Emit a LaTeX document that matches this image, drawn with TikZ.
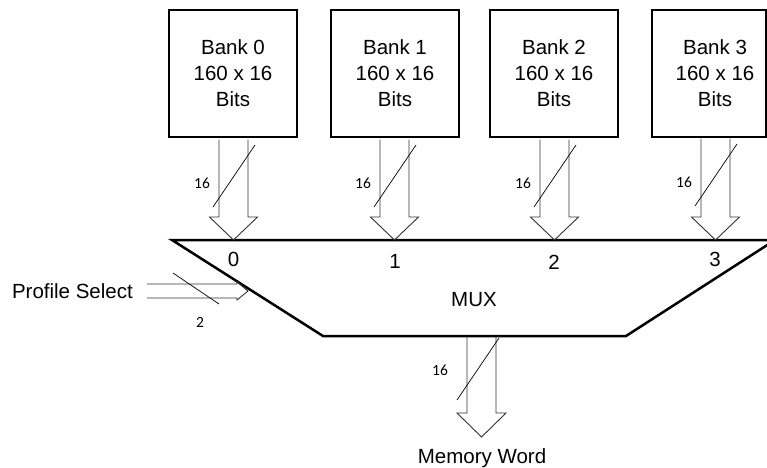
\documentclass[tikz,border=0pt]{standalone}
\usepackage{fontspec}
\setmainfont{Liberation Sans}
\newfontfamily\calfont{Carlito}
\usetikzlibrary{calc}
\newcommand\fatarrow[5]{% #1 start, #2 tip, #3 shaft half width, #4 head half width, #5 head length
  \draw[fat] let \p1=(#1), \p2=(#2) in
    (\x2-#3,\y1) -- (\x2-#3,\y2+#5) -- (\x2-#4,\y2+#5) -- (\x2,\y2)
    -- (\x2+#4,\y2+#5) -- (\x2+#3,\y2+#5) -- (\x2+#3,\y1);}
\begin{document}
\begin{tikzpicture}[x=1pt,y=-1pt,
  bankbox/.style={draw, line width=2pt, minimum width=128pt, minimum height=127pt, inner sep=0pt},
  banktext/.style={align=center, inner sep=0pt, font=\fontsize{20.5}{26}\selectfont},
  lbl/.style={inner sep=0pt, font=\fontsize{20.5}{24}\selectfont},
  small/.style={inner sep=0pt, font=\calfont\fontsize{15.5}{17}\selectfont},
  fat/.style={draw=black!80, line width=0.9pt},
  slash/.style={draw, line width=0.7pt},
  muxline/.style={draw, line width=2.5pt, line join=miter}
]
\useasboundingbox (0,0) rectangle (767,467);
\begin{scope}
\clip (0,0) rectangle (767,467);
% banks
\node[bankbox] (b0) at (233,73.5) {};
\node[bankbox] (b1) at (395,73.5) {};
\node[bankbox] (b2) at (554,73.5) {};
\node[bankbox, minimum width=114pt] (b3) at (709,73.5) {};
\node[banktext] (b0t) at (b0.center) {Bank 0\\160 x 16\\Bits};
\node[banktext] (b1t) at (b1.center) {Bank 1\\160 x 16\\Bits};
\node[banktext] (b2t) at (b2.center) {Bank 2\\160 x 16\\Bits};
\node[banktext] (b3t) at (715,73.5) {Bank 3\\160 x 16\\Bits};
% mux
\coordinate (mtl) at (172,240);
\coordinate (mtr) at (775,240);
\coordinate (mbr) at (626,336);
\coordinate (mbl) at (323,336);
\draw[muxline] (mtl) -- (mtr) -- (mbr) -- (mbl) -- cycle;
\node[lbl] (mux) at (474,300) {MUX};
\node[lbl] (in0) at (233.5,259.5) {0};
\node[lbl] (in1) at (395,261) {1};
\node[lbl] (in2) at (554,262) {2};
\node[lbl] (in3) at (715,259.5) {3};
% bank arrows
\coordinate (s0) at ($(b0.south)+(0.5,1.5)$);
\coordinate (s1) at ($(b1.south)+(-0.5,1.5)$);
\coordinate (s2) at ($(b2.south)+(0.5,1.5)$);
\coordinate (s3) at (715.5,138.5);
\foreach \i in {0,1,2,3}{
  \coordinate (t\i) at (s\i |- mtl);
  \fatarrow{s\i}{t\i}{14.5pt}{24pt}{23pt}
  \draw[slash] ($(s\i)+(21.5,5.5)$) -- ($(s\i)+(-20.5,67.5)$);
  \node[small] (w\i) at ($(s\i)+(-31.5,43.5)$) {16};
}
% output arrow
\coordinate (mo) at (481.5,337);
\coordinate (mt) at (481.5,437);
\fatarrow{mo}{mt}{14.5pt}{24.5pt}{24pt}
\draw[slash] ($(mo)+(17.5,1)$) -- ($(mo)+(-24.5,63)$);
\node[small] (wo) at ($(mo)+(-41.5,33)$) {16};
\node[lbl] (mw) at (482,458) {Memory Word};
% profile select
\node[lbl, anchor=east] (ps) at (133,291) {Profile Select};
\coordinate (pa) at ($(ps.east)+(14,0)$);
\draw[fat] ($(pa)+(0,-7)$) -- ($(pa)+(90,-7)$) -- ($(pa)+(90,-9)$) -- ($(pa)+(101,0)$)
  -- ($(pa)+(90,9)$) -- ($(pa)+(90,7)$) -- ($(pa)+(0,7)$);
\draw[slash] (173,273) -- (219,304);
\node[small] (wp) at (200,322) {2};
\end{scope}
\end{tikzpicture}
\end{document}
